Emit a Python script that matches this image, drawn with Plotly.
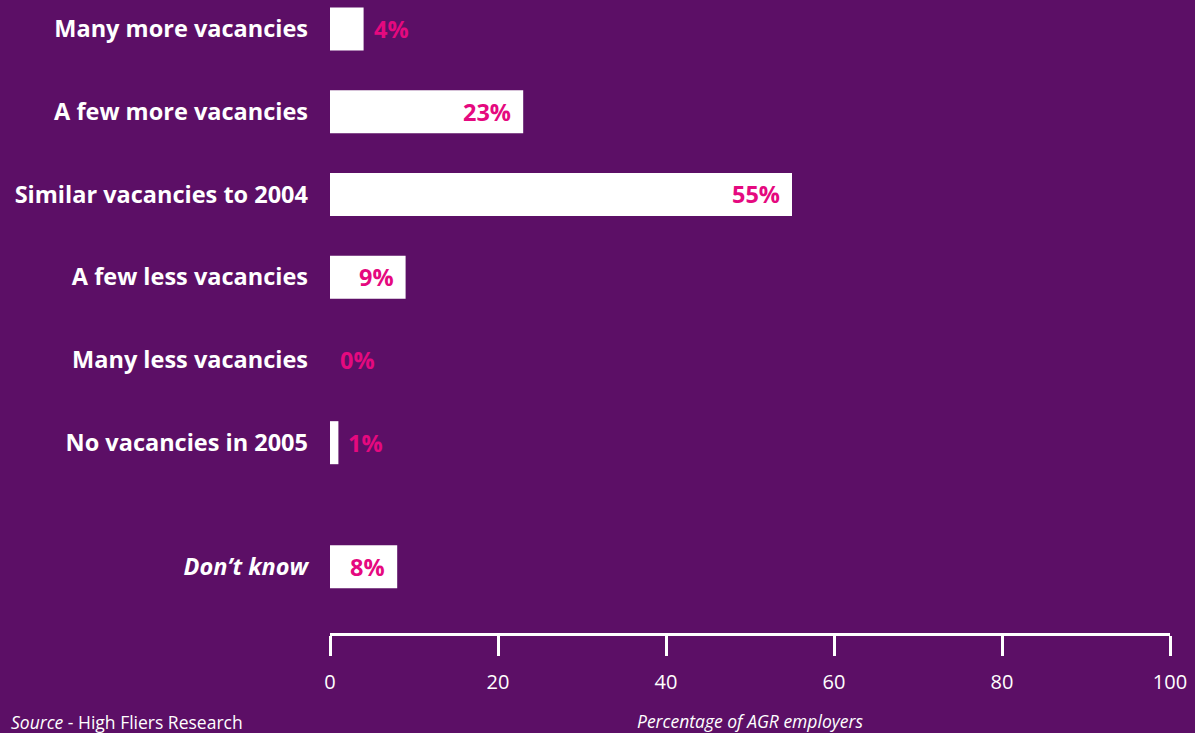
import plotly.graph_objects as go

# Expected change in graduate vacancies for 2005
categories = [
    "Many more vacancies",
    "A few more vacancies",
    "Similar vacancies to 2004",
    "A few less vacancies",
    "Many less vacancies",
    "No vacancies in 2005",
    "<i>Don’t know</i>",
]
values = [4, 23, 55, 9, 0, 1, 8]
# vertical slot for each row ("Don't know" sits apart from the rest)
positions = [0, 1, 2, 3, 4, 5, 6.5]
x_ticks = [0, 20, 40, 60, 80, 100]

BG = "#5c0f66"
PINK = "#e5097f"
WHITE = "#ffffff"
FONT = "Open Sans"

fig = go.Figure()
fig.add_trace(go.Bar(
    x=values,
    y=positions,
    orientation="h",
    width=0.52,
    marker=dict(color=WHITE, line=dict(width=0)),
    hoverinfo="skip",
))

# value labels: inside the bar end for wide bars, just beyond for narrow ones
for v, p in zip(values, positions):
    inside = v >= 8
    fig.add_annotation(
        x=v, y=p, xref="x", yref="y",
        text=f"<b>{v}%</b>",
        showarrow=False,
        xanchor="right" if inside else "left",
        xshift=-10 if inside else 8,
        font=dict(family=FONT, size=23.5, color=PINK),
    )

# axis title under the tick labels
fig.add_annotation(
    x=0.5, y=0, xref="paper", yref="paper", yanchor="middle",
    yshift=-88,
    text="<i>Percentage of AGR employers</i>", showarrow=False,
    font=dict(family=FONT, size=17.5, color=WHITE),
)
# source note in the bottom-left corner
fig.add_annotation(
    x=0, y=0, xref="paper", yref="paper",
    text="<i>Source</i> - High Fliers Research", showarrow=False,
    xanchor="left", yanchor="middle", xshift=-321, yshift=-89,
    font=dict(family=FONT, size=17.5, color=WHITE),
)

fig.update_layout(
    width=1195, height=733,
    paper_bgcolor=BG, plot_bgcolor=BG,
    margin=dict(l=330, r=25, t=0, b=100),
    showlegend=False,
    xaxis=dict(
        range=[0, 100], tickvals=x_ticks, ticktext=[str(t) for t in x_ticks],
        showgrid=False, zeroline=False,
        showline=True, linecolor=WHITE, linewidth=2.5,
        ticks="outside", ticklen=20, tickwidth=2.5, tickcolor=WHITE,
        tickfont=dict(family=FONT, size=20, color=WHITE),
        ticklabelstandoff=9,
        fixedrange=True,
    ),
    yaxis=dict(
        range=[7.30, -0.35],
        tickvals=positions, ticktext=categories,
        showgrid=False, zeroline=False, showline=False,
        ticks="", ticklabelstandoff=21,
        tickfont=dict(family=FONT, size=23.5, color=WHITE, weight="bold"),
        fixedrange=True,
    ),
)

fig.write_html("out.html")
